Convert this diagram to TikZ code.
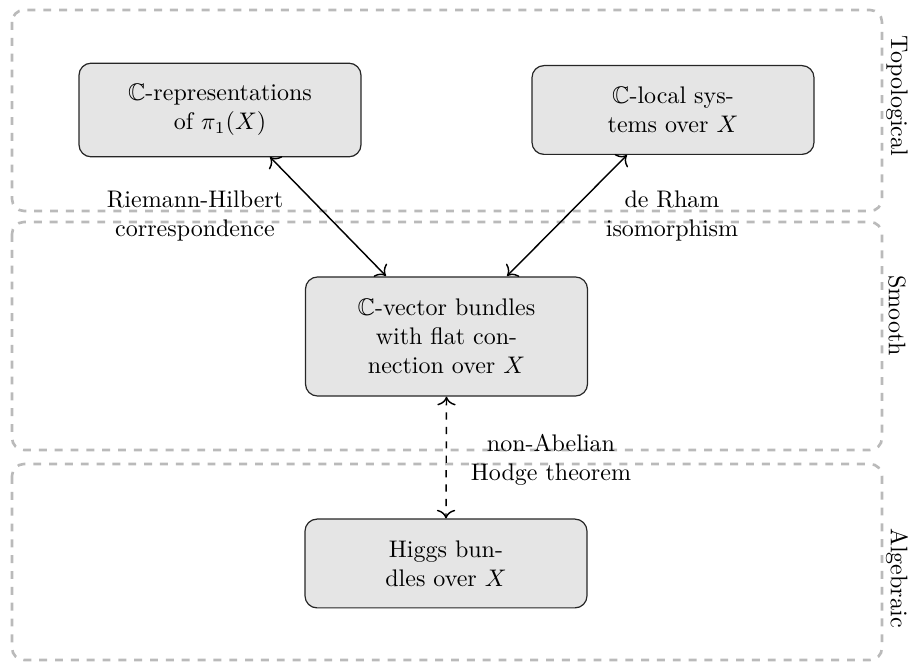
\documentclass[tikz,border=0pt]{standalone}
\usepackage{amssymb}
\usetikzlibrary{arrows.meta}
\begin{document}
\begin{tikzpicture}[x=0.41667pt,y=-0.41667pt,
  region/.style={draw=black!27, line width=1.1pt, dash pattern=on 3.3pt off 3.3pt, rounded corners=5pt},
  regionlabel/.style={rotate=-90, inner sep=0pt},
  box/.style={draw=black!85, fill=black!10, rounded corners=5pt, align=center, inner sep=0pt, line width=0.5pt, minimum width=117.5pt},
  link/.style={semithick, {To[scale=1.25]}-{To[scale=1.25]}},
  lbl/.style={align=center, inner sep=0pt}]
\useasboundingbox (0,0) rectangle (914,663);
% regions
\draw[region] (12,10) rectangle (882,211);
\draw[region] (12,222) rectangle (882,450);
\draw[region] (12,464) rectangle (882,660);
\node[regionlabel] (ltop) at (897,96) {Topological};
\node[regionlabel] (lsm) at (897,316) {Smooth};
\node[regionlabel] (lalg) at (897,578) {Algebraic};
% boxes
\node[box, minimum height=39pt] (rep) at (220,110) {$\mathbb{C}$-representations\\ of $\pi_1(X)$};
\node[box, minimum height=37pt] (loc) at (673,110) {$\mathbb{C}$-local sys-\\ tems over $X$};
\node[box, minimum height=49.6pt] (vb) at (446.5,336.5) {$\mathbb{C}$-vector bundles\\ with flat con-\\ nection over $X$};
\node[box, minimum height=37pt] (hig) at (446,563.5) {Higgs bun-\\ dles over $X$};
% connectors
\coordinate (a1) at (270,157);
\coordinate (a2) at (386,276);
\coordinate (b1) at (627,155);
\coordinate (b2) at (507,276);
\draw[link] (a1) -- (a2);
\draw[link] (b1) -- (b2);
\draw[link, dashed] (vb.south) -- (hig.north);
\node[lbl] (rh) at (195,216) {Riemann-Hilbert\\ correspondence};
\node[lbl] (dr) at (672,216) {de Rham\\ isomorphism};
\node[lbl] (nah) at (551,460) {non-Abelian\\ Hodge theorem};
\end{tikzpicture}
\end{document}
